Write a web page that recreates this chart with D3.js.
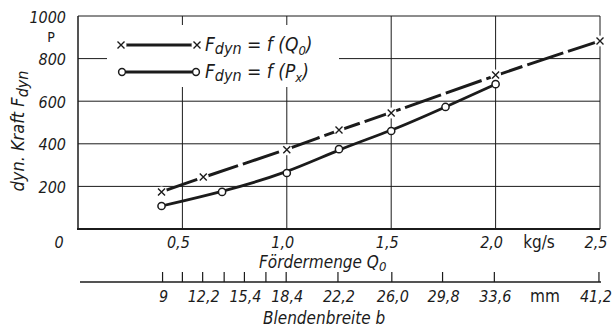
<!DOCTYPE html>
<html>
<head>
<meta charset="utf-8">
<script src="https://cdn.jsdelivr.net/npm/d3@7"></script>
<style>
  body { margin: 0; background: #fff; }
  svg text {
    font-family: "Liberation Sans Narrow", "DejaVu Sans Condensed", sans-serif;
    font-style: italic;
    fill: #1b1b1b;
  }
</style>
</head>
<body>
<svg id="chart" width="615" height="332"></svg>
<script>
// Fdyn = f(Q0)  (crosses)
const qCross = [0.4, 0.6, 1.0, 1.25, 1.5, 2.0, 2.5];
const fCross = [174, 244, 372, 465, 545, 723, 883];

// Fdyn = f(Px)  (circles)
const qCircle = [0.4, 0.69, 1.0, 1.25, 1.5, 1.76, 2.0];
const fCircle = [108, 174, 263, 375, 460, 573, 680];

// axis ticks
const qTicks = [0, 0.5, 1.0, 1.5, 2.0, 2.5];
const qTickLabels = ["0", "0,5", "1,0", "1,5", "2,0", "2,5"];
const fTicks = [200, 400, 600, 800, 1000];

// second axis: Blendenbreite b, placed at matching Q0 values
const bLabels = ["9", "12,2", "15,4", "18,4", "22,2", "26,0", "29,8", "33,6", "41,2"];
const bAtQ = [0.405, 0.597, 0.797, 0.997, 1.245, 1.503, 1.746, 1.994, 2.495];
const bMinorAtQ = [0.5, 0.7, 0.9];

const svg = d3.select("#chart");
const ink = "#1b1b1b";

const x = d3.scaleLinear().domain([0, 2.5]).range([78, 600]);
const y = d3.scaleLinear().domain([0, 1000]).range([229, 16]);

// grid
const grid = svg.append("g").attr("stroke", ink).attr("stroke-width", 1);
grid.selectAll(".hg").data(fTicks).join("line")
  .attr("x1", x(0)).attr("x2", x(2.5))
  .attr("y1", d => y(d)).attr("y2", d => y(d));
grid.selectAll(".vg").data(qTicks.slice(1)).join("line")
  .attr("x1", d => x(d)).attr("x2", d => x(d))
  .attr("y1", y(0)).attr("y2", y(1000));
// left and bottom frame
svg.append("line").attr("x1", x(0)).attr("x2", x(0)).attr("y1", y(0)).attr("y2", y(1000))
  .attr("stroke", ink).attr("stroke-width", 1.5);
svg.append("line").attr("x1", x(0) - 1).attr("x2", x(2.5)).attr("y1", y(0)).attr("y2", y(0))
  .attr("stroke", ink).attr("stroke-width", 2);

// legend background hides the grid behind it
svg.append("rect").attr("x", 107).attr("y", 25).attr("width", 232).attr("height", 62).attr("fill", "#fff");

// y tick labels
svg.selectAll(".yl").data(fTicks).join("text")
  .attr("x", 66).attr("y", d => y(d) + 1).attr("dy", "0.35em")
  .attr("text-anchor", "end").attr("font-size", 16).text(d => d);
svg.append("text").attr("x", 51).attr("y", 42).attr("text-anchor", "middle")
  .attr("font-size", 14).style("font-style", "normal").text("P");

// y title
const yt = svg.append("text").attr("transform", "translate(24,131) rotate(-90)")
  .attr("text-anchor", "middle").attr("font-size", 18);
yt.append("tspan").text("dyn. Kraft F");
yt.append("tspan").attr("dy", 4).attr("font-size", 16).text("dyn");

// Q0 tick labels
svg.selectAll(".xl").data(qTicks).join("text")
  .attr("x", (d, i) => i === 0 ? x(d) - 19 : x(d) - 4)
  .attr("y", 242).attr("dy", "0.35em")
  .attr("text-anchor", "middle").attr("font-size", 16)
  .text((d, i) => qTickLabels[i]);
svg.append("text").attr("x", 539).attr("y", 242).attr("dy", "0.35em")
  .attr("text-anchor", "middle").attr("font-size", 17).style("font-style", "normal")
  .text("kg/s");
const xt = svg.append("text").attr("x", 259).attr("y", 268).attr("font-size", 17);
xt.append("tspan").text("Fördermenge Q");
xt.append("tspan").attr("dy", 3).attr("font-size", 13).text("0");

// Blendenbreite axis
const bAxisY = 282;
svg.append("line").attr("x1", 80).attr("x2", x(2.5) + 1).attr("y1", bAxisY).attr("y2", bAxisY)
  .attr("stroke", ink).attr("stroke-width", 1.5);
svg.selectAll(".bt").data(bAtQ.concat(bMinorAtQ)).join("line")
  .attr("x1", d => x(d)).attr("x2", d => x(d))
  .attr("y1", bAxisY - 10).attr("y2", bAxisY)
  .attr("stroke", ink).attr("stroke-width", 1.2);
svg.selectAll(".bl").data(bAtQ).join("text")
  .attr("x", (d, i) => i === bAtQ.length - 1 ? 612 : x(d) + 1)
  .attr("y", 296).attr("dy", "0.35em")
  .attr("text-anchor", (d, i) => i === bAtQ.length - 1 ? "end" : "middle")
  .attr("font-size", 16)
  .text((d, i) => bLabels[i]);
svg.append("text").attr("x", 545).attr("y", 296).attr("dy", "0.35em")
  .attr("text-anchor", "middle").attr("font-size", 17).style("font-style", "normal")
  .text("mm");
svg.append("text").attr("x", 263).attr("y", 324).attr("font-size", 17).text("Blendenbreite b");

// curves
const crossPts = qCross.map((q, i) => [q, fCross[i]]);
const circlePts = qCircle.map((q, i) => [q, fCircle[i]]);
const line = d3.line().x(d => x(d[0])).y(d => y(d[1])).curve(d3.curveBasis);

svg.append("path").datum(crossPts).attr("d", line)
  .attr("fill", "none").attr("stroke", ink).attr("stroke-width", 3)
  .attr("stroke-dasharray", "38,5");
svg.append("path").datum(circlePts).attr("d", line)
  .attr("fill", "none").attr("stroke", ink).attr("stroke-width", 2.8);

// markers
function drawCross(g, cx, cy) {
  g.append("circle").attr("cx", cx).attr("cy", cy).attr("r", 5.5).attr("fill", "#fff");
  g.append("path")
    .attr("d", `M${cx - 3.5},${cy - 3.5}L${cx + 3.5},${cy + 3.5}M${cx - 3.5},${cy + 3.5}L${cx + 3.5},${cy - 3.5}`)
    .attr("stroke", ink).attr("stroke-width", 1.4);
}
const marks = svg.append("g");
crossPts.forEach(d => drawCross(marks, x(d[0]), y(d[1])));
marks.selectAll(".cm").data(circlePts).join("circle")
  .attr("cx", d => x(d[0])).attr("cy", d => y(d[1])).attr("r", 3.6)
  .attr("fill", "#fff").attr("stroke", ink).attr("stroke-width", 1.5);

// legend
const lg = svg.append("g");
lg.append("line").attr("x1", 126).attr("x2", 192).attr("y1", 45).attr("y2", 45)
  .attr("stroke", ink).attr("stroke-width", 3);
drawCross(lg, 121, 45);
drawCross(lg, 197, 45);
lg.append("line").attr("x1", 126).attr("x2", 192).attr("y1", 72).attr("y2", 72)
  .attr("stroke", ink).attr("stroke-width", 3);
[122, 196].forEach(cx => lg.append("circle").attr("cx", cx).attr("cy", 72).attr("r", 3.4)
  .attr("fill", "#fff").attr("stroke", ink).attr("stroke-width", 1.5));

function legendText(ty, sym, sub) {
  const t = lg.append("text").attr("x", 205).attr("y", ty).attr("font-size", 19);
  t.append("tspan").text("F");
  t.append("tspan").attr("dy", 3).attr("font-size", 16).text("dyn");
  t.append("tspan").attr("dy", -3).text(" = f (" + sym);
  t.append("tspan").attr("dy", 4).attr("font-size", 13).text(sub);
  t.append("tspan").attr("dy", -4).text(")");
}
legendText(51, "Q", "0");
legendText(78, "P", "x");
</script>
</body>
</html>
